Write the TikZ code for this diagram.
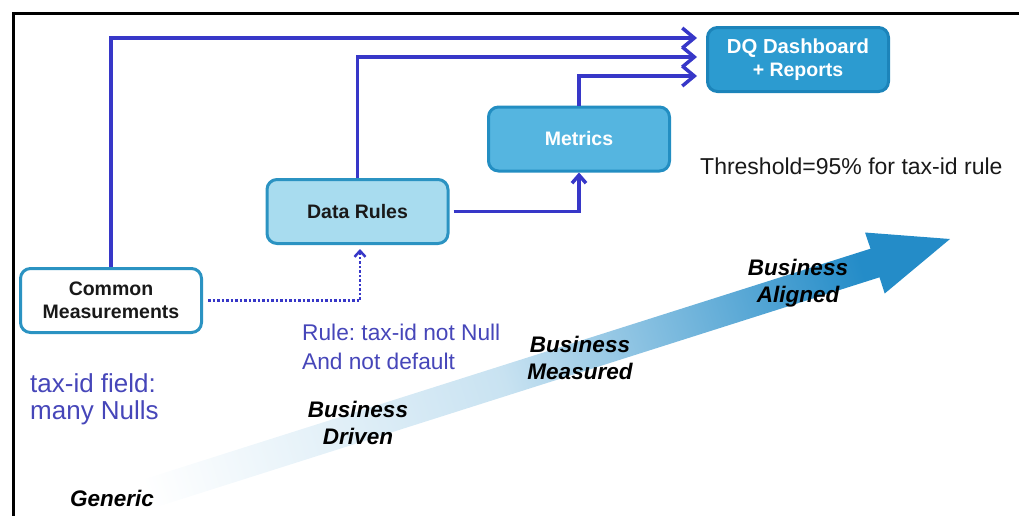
\documentclass[tikz,border=0pt]{standalone}
\usepackage{fontspec}
\setmainfont{Liberation Sans}
\usetikzlibrary{arrows.meta}
\frenchspacing

\definecolor{connblue}{RGB}{55,55,200}
\definecolor{noteblue}{RGB}{70,70,185}
\definecolor{dqfill}{RGB}{44,155,208}
\definecolor{dqedge}{RGB}{28,132,186}
\definecolor{metfill}{RGB}{85,181,224}
\definecolor{metedge}{RGB}{35,142,194}
\definecolor{rulefill}{RGB}{168,220,239}
\definecolor{boxedge}{RGB}{43,147,194}
\definecolor{arrowblue}{RGB}{36,140,200}

\begin{document}
\begin{tikzpicture}[x=1pt,y=-1pt,
  box/.style={rounded corners=10pt, line width=3pt, minimum width=181pt,
    minimum height=64pt, align=center, inner sep=0pt,
    font=\fontsize{19.5}{23}\selectfont\bfseries},
  conn/.style={draw=connblue, line width=3.5pt,
    -{Straight Barb[length=12pt,width=20pt]}},
  upconn/.style={draw=connblue, line width=3.5pt,
    -{Straight Barb[length=8pt,width=14pt]}},
  dotconn/.style={draw=connblue, line width=2.5pt, dotted,
    -{Straight Barb[length=6pt,width=11pt]}},
  stage/.style={align=center, inner sep=0pt,
    font=\fontsize{22.5}{27}\selectfont\bfseries\itshape},
  note/.style={align=left, inner sep=0pt, text=noteblue}
]
\clip (0,0) rectangle (1019,515);

% maturity arrow in the background
\shade[left color=white, right color=arrowblue, middle color=arrowblue!25!white,
       shading angle=107.6]
  (59.5,506) -- (870.5,248.7) -- (865,232.5) -- (950,239) -- (884.7,293.5)
  -- (879.5,277.3) -- (68.5,535) -- cycle;

% frame
\draw[line width=3pt] (13,520) -- (13,13) -- (1025,13);

% boxes
\node[box, fill=dqfill, draw=dqedge, text=white] (dq) at (798,59.5)
  {\fontsize{20.3}{23}\selectfont DQ Dashboard\\+ Reports};
\node[box, fill=metfill, draw=metedge, text=white] (mt) at (579,139) {Metrics};
\node[box, fill=rulefill, draw=boxedge, text=black!90] (dr) at (357.5,211.5) {Data Rules};
\node[box, fill=white, draw=boxedge, text=black!90] (cm) at (111,300.5) {Common\\Measurements};

% connectors
\draw[conn, shorten >=9pt] (cm.north) |- ([yshift=21.5pt]dq.west);
\draw[conn, shorten >=9pt] (dr.north) |- ([yshift=2.5pt]dq.west);
\draw[conn, shorten >=9pt] (mt.north) |- ([yshift=-16.5pt]dq.west);
\draw[upconn, shorten <=4pt] (dr.east) -| (mt.south);
\draw[dotconn, shorten <=5pt, shorten >=4pt] (cm.east) -| ([xshift=2.5pt]dr.south);

% annotations
\node[anchor=west, inner sep=0pt, text=black!90, font=\fontsize{23}{26}\selectfont]
  (thr) at (700,166) {Threshold=95\% for tax-id rule};
\node[note, anchor=west, font=\fontsize{22.7}{29}\selectfont]
  (rule) at (302,346.5) {Rule: tax-id not Null\\And not default};
\node[note, anchor=west, font=\fontsize{26}{27}\selectfont]
  (fld) at (30,399.5) {tax-id field:\\many Nulls};

% stages along the arrow
\node[stage] (s4) at (798,283.5) {Business\\Aligned};
\node[stage] (s3) at (580,357.5) {Business\\Measured};
\node[stage] (s2) at (358,423) {Business\\Driven};
\node[stage] (s1) at (112,498) {Generic};
\end{tikzpicture}
\end{document}
